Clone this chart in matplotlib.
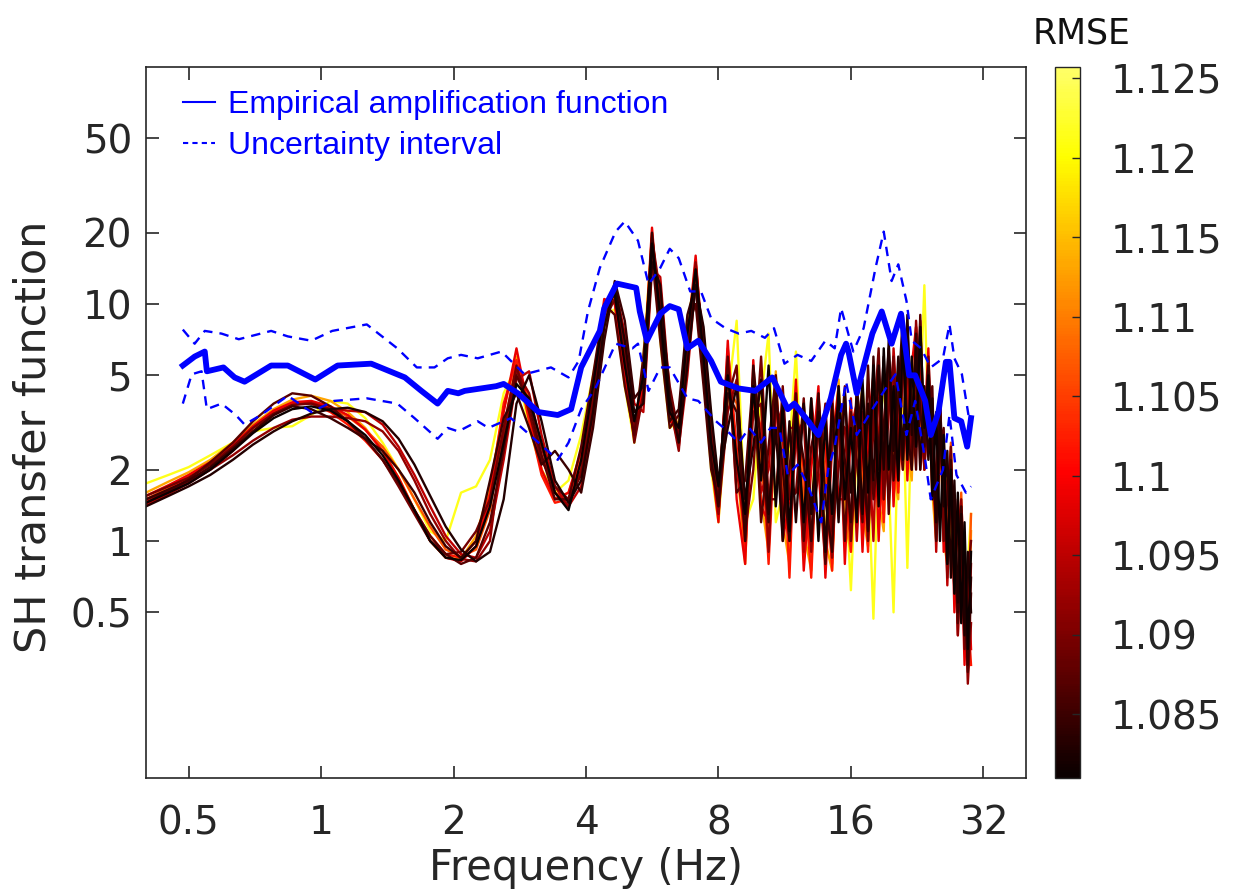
import numpy as np
import matplotlib
matplotlib.use("Agg")
import matplotlib.pyplot as plt
from matplotlib.colors import ListedColormap, Normalize
from matplotlib.cm import ScalarMappable
from matplotlib.lines import Line2D
from matplotlib.ticker import NullLocator

# frequency grid shared by the model transfer functions (Hz)
freq = [0.40, 0.45, 0.50, 0.56, 0.63, 0.70, 0.78, 0.86, 0.95, 1.05,
        1.15, 1.26, 1.38, 1.50, 1.63, 1.77, 1.92, 2.08, 2.25, 2.42,
        2.60, 2.78, 2.97, 3.17, 3.40, 3.65, 3.90, 4.15, 4.40, 4.65,
        4.90, 5.15, 5.40, 5.65, 5.90, 6.20, 6.50, 6.80, 7.10, 7.40,
        7.70, 8.00, 8.4, 8.8, 9.2, 9.6, 10.0, 10.4, 10.8, 11.2,
        11.6, 12.0, 12.5, 13.0, 13.5, 14.0, 14.5, 15.0, 15.5, 16.0,
        16.5, 17.0, 17.5, 18.0, 18.5, 19.0, 19.5, 20.0, 20.5, 21.0,
        21.5, 22.0, 22.5, 23.0, 23.5, 24.0, 24.5, 25.0, 25.5, 26.0,
        26.5, 27.0, 27.5, 28.0, 28.5, 29.0, 29.5, 30.0]

rmse = [1.0815, 1.0830, 1.0850, 1.0870, 1.0895, 1.0920,
        1.0950, 1.0985, 1.1020, 1.1070, 1.1130, 1.1215]

tf_01 = [1.45, 1.6, 1.75, 2.0, 2.4, 2.85, 3.3, 3.6, 3.7, 3.55,
         3.2, 2.8, 2.3, 1.8, 1.35, 1.0, 0.85, 0.83, 0.95, 1.4,
         2.6, 4.6, 4.0, 2.6, 1.6, 1.35, 2.2, 4.5, 9.5, 11.0,
         5.5, 3.2, 5.0, 18.0, 9.0, 3.5, 3.0, 7.5, 14.0, 6.0,
         2.6, 1.7, 5.0, 2.2, 1.3, 4.5, 1.8, 5.5, 1.4, 3.8,
         1.1, 3.5, 1.2, 4.0, 1.0, 3.2, 1.3, 4.5, 1.5, 3.0,
         1.2, 4.8, 1.6, 5.5, 1.4, 6.5, 2.0, 4.5, 1.8, 7.5,
         2.2, 6.0, 2.5, 8.0, 3.0, 5.0, 1.5, 3.5, 1.0, 2.8,
         0.8, 2.0, 0.6, 1.6, 0.45, 1.2, 0.35, 0.9]
tf_02 = [1.4, 1.55, 1.7, 1.9, 2.2, 2.55, 2.9, 3.2, 3.45, 3.6,
         3.65, 3.5, 3.2, 2.7, 2.1, 1.55, 1.15, 0.92, 0.82, 0.9,
         1.5, 3.8, 5.0, 3.2, 1.8, 1.45, 1.8, 3.5, 8.0, 12.0,
         7.0, 3.5, 3.8, 15.0, 12.0, 4.0, 2.6, 5.5, 12.0, 8.0,
         3.5, 1.8, 3.0, 4.5, 1.5, 2.5, 4.8, 1.3, 3.0, 1.0,
         3.2, 1.2, 3.8, 1.3, 3.5, 0.9, 3.8, 1.2, 4.2, 1.6,
         4.0, 1.3, 3.8, 1.8, 5.5, 2.0, 7.0, 2.4, 6.0, 2.2,
         9.0, 2.8, 6.5, 2.0, 4.5, 2.2, 4.0, 1.2, 3.2, 1.4,
         2.4, 0.7, 1.8, 0.55, 1.3, 0.4, 0.9, 0.5]
tf_03 = [1.5, 1.65, 1.8, 2.05, 2.45, 2.9, 3.4, 3.7, 3.6, 3.3,
         3.0, 2.7, 2.4, 2.0, 1.6, 1.2, 0.95, 0.85, 1.0, 1.8,
         3.3, 4.2, 3.0, 2.1, 2.4, 2.0, 1.6, 3.0, 7.0, 12.5,
         8.5, 4.0, 4.5, 20.0, 8.0, 3.2, 3.6, 9.0, 12.0, 5.0,
         2.2, 1.4, 4.2, 3.5, 1.0, 5.5, 2.5, 1.2, 4.2, 2.0,
         1.0, 3.5, 2.2, 1.0, 4.2, 1.5, 0.9, 4.0, 2.2, 1.2,
         4.5, 2.5, 1.1, 6.0, 2.0, 3.0, 6.5, 1.8, 4.0, 9.0,
         3.0, 2.0, 7.5, 3.5, 2.5, 5.5, 2.2, 1.2, 3.8, 1.8,
         0.9, 2.2, 1.0, 0.5, 1.4, 0.6, 0.3, 0.7]
tf_04 = [1.45, 1.62, 1.82, 2.15, 2.6, 3.2, 3.8, 4.2, 4.1, 3.7,
         3.2, 2.7, 2.2, 1.75, 1.35, 1.05, 0.88, 0.8, 0.85, 1.2,
         2.4, 5.0, 3.8, 2.3, 1.5, 1.5, 2.5, 5.0, 10.0, 9.0,
         4.5, 2.8, 6.0, 16.0, 7.0, 3.0, 3.4, 8.0, 10.0, 4.5,
         2.0, 1.5, 6.0, 1.6, 1.8, 5.0, 1.2, 2.5, 5.0, 1.2,
         2.0, 4.2, 1.0, 2.5, 3.5, 0.8, 2.8, 3.8, 1.0, 3.5,
         2.2, 1.2, 5.5, 1.5, 2.5, 6.0, 1.3, 3.5, 5.0, 2.0,
         6.5, 4.0, 2.0, 9.0, 2.5, 3.5, 4.5, 1.0, 2.5, 3.0,
         0.8, 1.6, 1.5, 0.45, 1.0, 0.8, 0.28, 0.6]
tf_05 = [1.55, 1.7, 1.85, 2.1, 2.5, 3.0, 3.45, 3.75, 3.8, 3.6,
         3.2, 2.7, 2.2, 1.7, 1.3, 1.0, 0.88, 0.9, 1.1, 1.5,
         3.0, 5.5, 3.5, 2.2, 1.7, 1.5, 1.9, 3.8, 8.5, 10.5,
         6.0, 2.6, 4.2, 17.0, 10.0, 4.5, 2.8, 6.0, 13.0, 7.0,
         3.0, 1.4, 4.0, 5.5, 1.1, 2.0, 6.0, 1.5, 1.5, 4.5,
         1.5, 1.6, 4.0, 1.0, 2.0, 3.8, 1.1, 2.0, 4.5, 1.0,
         2.5, 4.5, 1.0, 3.0, 6.5, 1.5, 3.5, 6.0, 2.0, 5.5,
         8.0, 2.5, 4.0, 7.5, 2.2, 6.0, 2.5, 1.8, 4.2, 1.0,
         1.5, 2.5, 0.6, 1.2, 1.1, 0.35, 0.7, 1.0]
tf_06 = [1.5, 1.62, 1.78, 2.0, 2.3, 2.65, 3.0, 3.25, 3.35, 3.35,
         3.3, 3.2, 2.9, 2.4, 1.8, 1.3, 1.0, 0.84, 0.82, 1.0,
         2.8, 5.2, 4.2, 2.5, 1.6, 1.4, 2.0, 4.0, 9.0, 11.5,
         6.5, 3.0, 4.0, 19.0, 11.0, 3.8, 2.4, 6.5, 15.0, 6.5,
         2.4, 1.3, 3.5, 4.8, 1.0, 3.5, 3.8, 0.9, 3.8, 3.0,
         1.0, 2.8, 3.2, 0.9, 3.0, 3.5, 0.85, 3.2, 3.0, 1.1,
         3.5, 3.5, 1.2, 4.0, 4.0, 1.5, 5.0, 5.0, 1.8, 6.5,
         6.0, 2.0, 8.5, 4.0, 2.0, 4.5, 3.0, 1.0, 3.0, 2.2,
         0.7, 2.0, 1.2, 0.4, 1.5, 0.7, 0.25, 0.45]
tf_07 = [1.42, 1.58, 1.75, 2.0, 2.4, 2.9, 3.4, 3.75, 3.85, 3.6,
         3.55, 3.5, 3.1, 2.5, 1.9, 1.4, 1.05, 0.88, 0.85, 1.1,
         2.2, 4.8, 5.2, 2.8, 1.7, 1.4, 1.7, 3.2, 8.0, 12.0,
         7.5, 3.8, 3.5, 14.0, 13.0, 4.2, 2.5, 5.0, 12.5, 7.5,
         3.2, 1.6, 5.5, 2.0, 1.1, 4.8, 1.6, 2.0, 5.0, 1.3,
         3.0, 3.0, 0.9, 4.0, 2.0, 0.8, 4.2, 1.5, 1.5, 4.0,
         1.0, 3.0, 3.0, 1.0, 5.0, 2.5, 1.6, 6.5, 3.0, 2.0,
         7.0, 3.5, 3.0, 8.5, 2.0, 4.0, 3.5, 0.9, 3.0, 2.5,
         0.65, 1.8, 1.3, 0.4, 1.0, 0.9, 0.3, 0.8]
tf_08 = [1.55, 1.72, 1.9, 2.15, 2.55, 3.05, 3.55, 3.85, 3.9, 3.7,
         3.4, 2.95, 2.4, 1.85, 1.35, 1.0, 0.85, 0.82, 0.95, 1.5,
         3.5, 6.5, 3.5, 2.0, 1.5, 1.6, 2.4, 4.5, 10.5, 10.0,
         4.8, 2.7, 5.0, 21.0, 8.0, 3.2, 3.0, 7.0, 16.0, 5.5,
         2.2, 1.2, 7.0, 1.5, 0.8, 5.8, 1.4, 1.2, 4.8, 1.0,
         1.5, 4.8, 0.75, 2.0, 4.5, 0.7, 2.5, 4.5, 0.8, 3.0,
         3.8, 0.9, 3.0, 5.0, 1.0, 3.0, 6.0, 1.4, 4.0, 7.0,
         1.8, 5.5, 8.0, 2.0, 3.0, 6.5, 1.5, 2.0, 4.0, 0.9,
         1.8, 2.0, 0.5, 1.5, 1.0, 0.3, 0.8, 0.35]
tf_09 = [1.48, 1.65, 1.85, 2.1, 2.5, 3.0, 3.5, 3.8, 3.8, 3.5,
         3.1, 2.65, 2.2, 1.75, 1.35, 1.05, 0.88, 0.85, 1.0, 1.6,
         3.8, 5.8, 3.2, 1.9, 1.45, 1.5, 2.2, 4.2, 9.5, 10.5,
         5.5, 2.9, 4.5, 18.0, 9.0, 3.6, 2.7, 6.5, 14.5, 6.0,
         2.5, 1.4, 6.5, 2.5, 0.9, 4.0, 3.0, 0.8, 3.5, 2.8,
         0.7, 3.8, 2.0, 0.7, 3.5, 2.5, 0.75, 3.5, 2.0, 0.9,
         3.2, 2.5, 0.9, 4.5, 2.8, 1.2, 5.5, 3.0, 1.6, 6.0,
         4.5, 2.0, 6.5, 5.0, 2.0, 5.0, 2.0, 1.1, 3.5, 1.5,
         0.8, 2.3, 0.8, 0.5, 1.3, 0.45, 0.5, 0.3]
tf_10 = [1.5, 1.68, 1.88, 2.15, 2.55, 3.0, 3.45, 3.75, 3.85, 3.65,
         3.35, 2.95, 2.5, 2.0, 1.5, 1.15, 0.92, 0.86, 0.92, 1.35,
         3.0, 5.6, 4.0, 2.3, 1.6, 1.5, 2.0, 4.0, 9.0, 11.0,
         6.0, 3.0, 4.2, 19.0, 10.0, 3.5, 2.6, 6.0, 13.5, 6.5,
         2.6, 1.3, 4.5, 3.8, 1.0, 4.5, 2.2, 1.0, 4.5, 1.8,
         1.0, 4.0, 1.5, 0.8, 4.0, 1.8, 0.8, 3.8, 1.6, 1.1,
         4.2, 2.0, 1.0, 4.8, 2.2, 1.3, 6.0, 2.5, 1.7, 6.8,
         3.5, 2.2, 7.5, 3.5, 2.4, 5.0, 1.8, 1.3, 3.8, 1.2,
         1.0, 2.6, 0.7, 0.6, 1.6, 0.5, 0.4, 1.3]
tf_11 = [1.6, 1.78, 1.95, 2.2, 2.6, 3.1, 3.6, 3.95, 4.1, 3.9,
         3.5, 3.0, 2.4, 1.85, 1.35, 1.0, 0.85, 0.84, 1.05, 1.7,
         3.6, 6.0, 3.4, 2.0, 1.5, 1.6, 2.3, 4.2, 9.8, 10.2,
         5.2, 2.8, 4.8, 20.0, 8.5, 3.3, 2.9, 7.0, 15.0, 5.8,
         2.3, 1.3, 6.0, 2.2, 0.8, 5.0, 1.5, 0.9, 5.2, 1.2,
         0.8, 4.5, 1.1, 0.75, 4.2, 1.0, 0.75, 4.8, 1.2, 0.9,
         4.5, 1.3, 0.95, 5.2, 1.5, 1.1, 6.0, 1.9, 1.5, 7.5,
         2.5, 1.8, 8.0, 2.6, 2.2, 5.5, 1.6, 1.0, 3.6, 1.0,
         0.8, 2.4, 0.6, 0.5, 1.4, 0.4, 0.3, 1.1]
tf_12 = [1.75, 1.9, 2.05, 2.3, 2.6, 2.9, 3.0, 3.05, 3.4, 3.9,
         3.8, 3.3, 2.6, 2.0, 1.5, 1.1, 1.0, 1.6, 1.7, 2.2,
         4.2, 5.5, 3.0, 2.0, 1.6, 1.8, 2.8, 5.0, 9.0, 9.5,
         4.5, 2.6, 6.0, 19.0, 7.0, 3.0, 3.2, 8.0, 14.0, 5.0,
         2.0, 1.2, 4.0, 8.5, 1.2, 1.5, 4.0, 7.5, 1.2, 1.6,
         2.5, 6.3, 1.2, 1.3, 4.0, 1.0, 2.5, 4.5, 2.0, 0.62,
         2.5, 4.5, 2.0, 0.47, 2.5, 4.8, 1.8, 0.5, 3.0, 4.0,
         0.77, 3.5, 7.0, 4.0, 12.0, 3.0, 2.5, 1.5, 3.0, 1.2,
         2.0, 1.0, 0.7, 1.2, 0.6, 0.5, 0.8, 1.3]

# empirical amplification function and its uncertainty interval
emp_freq = [0.485, 0.516, 0.544, 0.55, 0.60, 0.636, 0.67, 0.77, 0.84, 0.97,
            1.09, 1.30, 1.55, 1.69, 1.84, 1.94, 2.05, 2.12, 2.5, 2.6,
            2.8, 3.12, 3.45, 3.7, 3.9, 4.3, 4.4, 4.7, 5.2, 5.3,
            5.5, 5.9, 6.2, 6.5, 6.8, 7.2, 7.7, 8.1, 8.9, 9.7,
            10.6, 11.5, 11.9, 12.8, 13.5, 14.4, 15.2, 15.6, 15.8, 16.5,
            17.9, 18.8, 19.8, 20.8, 21.7, 22.4, 23.6, 24.3, 25.3, 26.3,
            26.8, 27.5, 28.5, 29.4, 30.0]
emp_vals = [5.5, 6.0, 6.3, 5.2, 5.4, 4.9, 4.7, 5.5, 5.5, 4.8,
            5.5, 5.6, 4.9, 4.3, 3.8, 4.3, 4.2, 4.3, 4.5, 4.6,
            4.2, 3.5, 3.4, 3.6, 5.4, 7.7, 9.6, 12.2, 11.7, 9.3,
            7.0, 9.1, 9.8, 9.5, 6.5, 7.0, 5.75, 4.7, 4.4, 4.3,
            4.9, 3.6, 3.8, 3.2, 2.8, 4.0, 6.1, 6.8, 6.3, 4.2,
            7.5, 9.3, 6.8, 9.1, 5.0, 5.0, 3.9, 2.8, 3.5, 5.7,
            5.7, 3.3, 3.2, 2.5, 3.3]

up_freq = [0.485, 0.516, 0.544, 0.594, 0.65, 0.77, 0.84, 0.95, 1.06, 1.27,
           1.49, 1.65, 1.81, 1.94, 2.08, 2.27, 2.57, 2.9, 3.33, 3.65,
           3.85, 4.04, 4.3, 4.67, 4.9, 5.25, 5.55, 5.9, 6.2, 6.5,
           6.9, 7.3, 7.7, 8.3, 8.9, 9.5, 10.2, 10.7, 11.3, 12.1,
           13.0, 14.0, 14.7, 15.2, 16.2, 17.1, 18.2, 19.0, 19.8, 20.5,
           21.4, 22.0, 23.1, 24.3, 25.9, 26.8, 27.5, 28.6, 29.6]
up_vals = [7.8, 6.8, 7.7, 7.5, 7.1, 7.7, 7.3, 7.0, 7.7, 8.2,
           6.5, 5.4, 5.4, 5.9, 6.1, 5.9, 6.3, 5.05, 5.4, 4.9,
           5.75, 9.3, 14.2, 20.2, 22.3, 18.5, 12.1, 14.2, 17.1, 15.6,
           11.3, 11.3, 8.7, 7.9, 7.5, 7.7, 7.2, 7.9, 5.6, 6.1,
           5.75, 7.0, 6.5, 9.6, 6.3, 7.9, 14.2, 20.2, 12.5, 14.7,
           10.3, 7.0, 6.5, 5.4, 5.9, 8.2, 5.9, 5.05, 3.4]

lo_freq = [0.485, 0.508, 0.535, 0.55, 0.594, 0.64, 0.67, 0.73, 0.84, 0.95,
           1.07, 1.27, 1.49, 1.63, 1.84, 1.94, 2.05, 2.27, 2.4, 2.7,
           3.12, 3.45, 3.65, 3.9, 4.2, 4.67, 5.1, 5.25, 5.55, 5.9,
           6.2, 6.8, 7.2, 7.9, 8.4, 8.9, 9.4, 10.0, 10.5, 11.0,
           11.5, 12.1, 12.8, 13.7, 14.2, 14.7, 15.6, 16.5, 17.9, 19.2,
           20.2, 21.4, 22.4, 23.6, 24.3, 25.9, 26.8, 27.8, 29.2, 30.0]
lo_vals = [3.8, 5.05, 5.2, 3.6, 3.8, 3.4, 3.1, 3.4, 4.1, 3.5,
           3.9, 4.0, 3.8, 3.3, 2.7, 3.0, 2.9, 3.2, 3.0, 3.3,
           2.6, 2.2, 2.6, 3.6, 4.4, 6.8, 6.5, 6.8, 4.3, 5.4,
           5.4, 4.0, 3.9, 3.2, 2.9, 2.6, 3.0, 2.6, 3.0, 3.0,
           1.9, 2.1, 1.7, 1.2, 2.0, 2.5, 4.7, 2.8, 3.6, 4.4,
           5.05, 2.8, 3.9, 2.2, 1.5, 2.0, 3.4, 1.9, 1.6, 1.7]

xticks = [0.5, 1, 2, 4, 8, 16, 32]
xticklabels = ["0.5", "1", "2", "4", "8", "16", "32"]
yticks = [0.5, 1, 2, 5, 10, 20, 50]
yticklabels = ["0.5", "1", "2", "5", "10", "20", "50"]
cticks = [1.085, 1.09, 1.095, 1.1, 1.105, 1.11, 1.115, 1.12, 1.125]
cticklabels = ["1.085", "1.09", "1.095", "1.1", "1.105", "1.11", "1.115", "1.12", "1.125"]

W, H = 1239, 890
BLUE = "#0000ff"
TXT = "#262626"

# hot colormap cut before it turns white
cmap = ListedColormap(plt.cm.hot(np.linspace(0, 0.85, 256)))
norm = Normalize(vmin=1.081, vmax=1.1257)

fig = plt.figure(figsize=(W / 100, H / 100), dpi=100)
ax = fig.add_axes([146 / W, 1 - 778 / H, 880 / W, 711 / H])

curves = [tf_01, tf_02, tf_03, tf_04, tf_05, tf_06,
          tf_07, tf_08, tf_09, tf_10, tf_11, tf_12]
# worst fits first so the best (dark) ones end on top
for i in np.argsort(rmse)[::-1]:
    ax.plot(freq, curves[i], color=cmap(norm(rmse[i])), lw=1.7,
            solid_joinstyle="round")

ax.plot(emp_freq, emp_vals, color=BLUE, lw=4.2, solid_joinstyle="round")
ax.plot(up_freq, up_vals, color=BLUE, lw=1.7, dashes=(4, 3))
ax.plot(lo_freq, lo_vals, color=BLUE, lw=1.7, dashes=(4, 3))

ax.set_xscale("log")
ax.set_yscale("log")
ax.set_xlim(0.4, 40)
ax.set_ylim(0.1, 100)
ax.set_xticks(xticks)
ax.set_xticklabels(xticklabels)
ax.set_yticks(yticks)
ax.set_yticklabels(yticklabels)
ax.xaxis.set_minor_locator(NullLocator())
ax.yaxis.set_minor_locator(NullLocator())
ax.tick_params(direction="in", top=True, right=True, length=9, width=1.2,
               color=TXT, labelcolor=TXT, labelsize=28)
ax.tick_params(axis="x", pad=19)
ax.tick_params(axis="y", pad=10)
for s in ax.spines.values():
    s.set_color(TXT)
    s.set_linewidth(1.2)

handles = [Line2D([], [], color=BLUE, lw=1.5),
           Line2D([], [], color=BLUE, lw=1.5, dashes=(2.5, 2))]
leg = ax.legend(handles, ["Empirical amplification function", "Uncertainty interval"],
                loc="upper left", frameon=False, labelcolor=BLUE,
                prop={"family": "Liberation Sans", "size": 23},
                handlelength=1.0, handletextpad=0.4, labelspacing=0.35,
                borderaxespad=0.0, bbox_to_anchor=(0.028, 0.986))

fig.text(34 / W, 1 - 437 / H, "SH transfer function", rotation=90,
         ha="center", va="center", fontsize=31, color=TXT)
fig.text(586 / W, 1 - 868 / H, "Frequency (Hz)", ha="center", va="center",
         fontsize=30, color=TXT)

cax = fig.add_axes([1055 / W, 1 - 778 / H, 25 / W, 711 / H])
cb = fig.colorbar(ScalarMappable(norm=norm, cmap=cmap), cax=cax)
cb.set_ticks(cticks)
cb.set_ticklabels(cticklabels)
cax.tick_params(direction="in", length=6, width=1.0, color=TXT,
                labelcolor=TXT, labelsize=28, pad=22)
cb.outline.set_edgecolor(TXT)
cb.outline.set_linewidth(1.0)
fig.text(1082 / W, 1 - 33 / H, "RMSE", ha="center", va="center",
         fontsize=25, color="#111111")

fig.savefig("out.png", dpi=100)
